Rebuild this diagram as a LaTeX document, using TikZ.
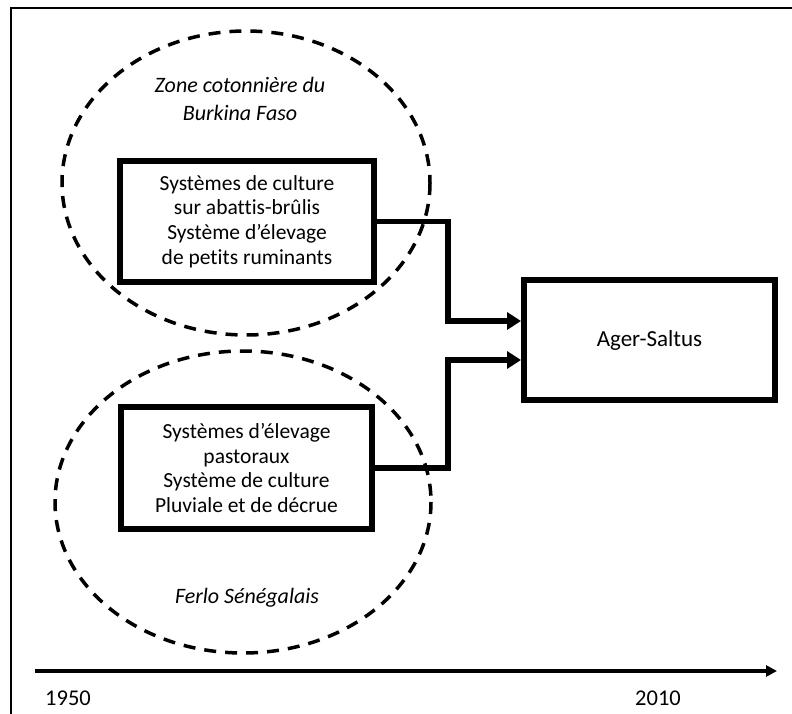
\documentclass[tikz,border=0pt]{standalone}
\usepackage{fontspec}
\setmainfont{Carlito}[Ligatures=NoCommon]
\usetikzlibrary{arrows.meta,calc}
\begin{document}
\begin{tikzpicture}[x=1pt,y=-1pt,
  frameline/.style={line width=2.5pt},
  zone/.style={line width=3.5pt,dash pattern=on 12pt off 9pt},
  boxnode/.style={draw,line width=6pt,align=center,inner sep=0pt,font=\fontsize{21.5}{24.8}\selectfont},
  zonelabel/.style={align=center,inner sep=0pt,font=\fontsize{22}{28}\selectfont\itshape},
  conn/.style={line width=5.5pt,-{Triangle[length=14pt,width=17pt]}},
  axisline/.style={line width=3.5pt,-{Triangle[length=11pt,width=11pt]}},
  yearlabel/.style={inner sep=0pt,font=\fontsize{22.5}{24}\selectfont}]
\useasboundingbox (0,0) rectangle (792,714);
% frame (top and left)
\draw[frameline] (792,8) -- (11,8) -- (11,714);
% zones
\draw[zone] (246,183) ellipse [x radius=184, y radius=152];
\draw[zone] (243,502) ellipse [x radius=188, y radius=151];
% labels of zones
\node[zonelabel] (z1) at (240,99) {Zone cotonnière du\\Burkina Faso};
\node[zonelabel] (z2) at (247,598) {Ferlo Sénégalais};
% boxes
\node[boxnode,minimum width=254pt,minimum height=121pt] (b1) at (247,221.5)
  {Systèmes de culture\\sur abattis-brûlis\\Système d’élevage\\de petits ruminants};
\node[boxnode,minimum width=251pt,minimum height=122pt] (b2) at (246.5,468)
  {Systèmes d’élevage\\pastoraux\\Système de culture\\Pluviale et de décrue};
\node[boxnode,minimum width=251pt,minimum height=120pt,font=\fontsize{23}{26}\selectfont] (ag) at (649.5,340) {Ager-Saltus};
% connectors
\coordinate (j) at (448,0);
\coordinate (a1) at ([yshift=19pt]ag.west);
\coordinate (a2) at ([yshift=-20pt]ag.west);
\draw[conn] (b1.east) -| (j |- a1) -- (a1);
\draw[conn] (b2.east) -| (j |- a2) -- (a2);
% time axis
\coordinate (t0) at (35,671);
\coordinate (t1) at (777,671);
\draw[axisline] (t0) -- (t1);
\node[yearlabel] (y1) at (68,698) {1950};
\node[yearlabel] (y2) at (658,698) {2010};
\end{tikzpicture}
\end{document}
